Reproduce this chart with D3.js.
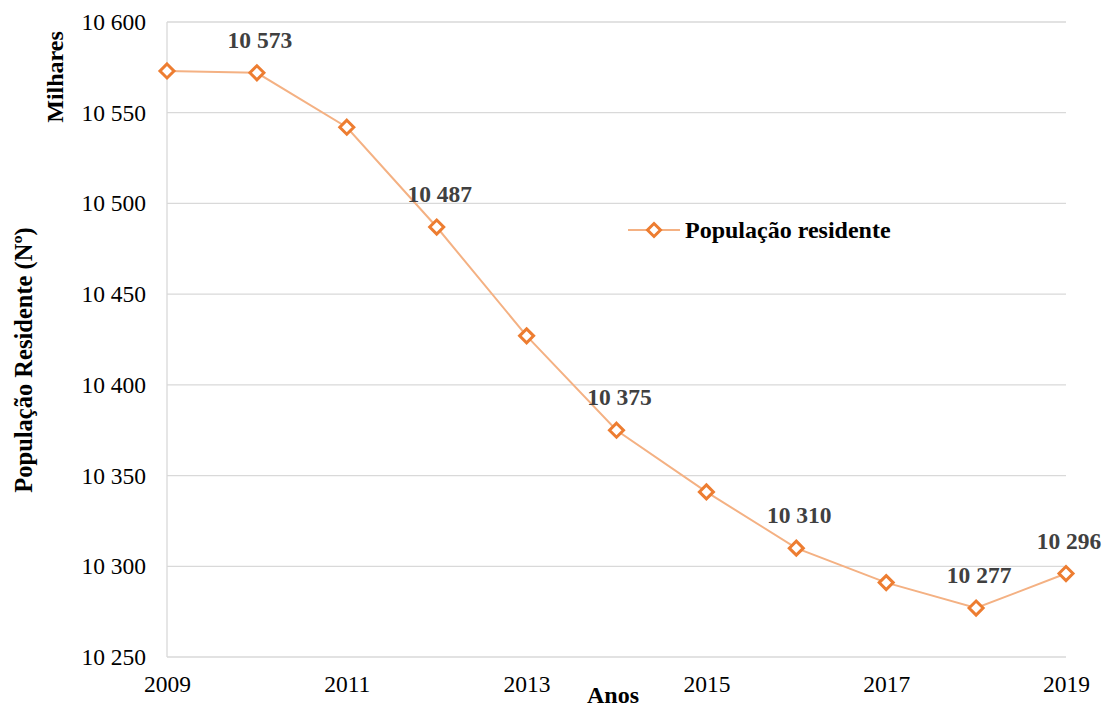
<!DOCTYPE html>
<html>
<head>
<meta charset="utf-8">
<script src="https://cdn.jsdelivr.net/npm/d3@7"></script>
<style>
  html, body { margin: 0; padding: 0; background: #fff; }
  svg { display: block; font-family: "Liberation Serif", "Times New Roman", serif; }
</style>
</head>
<body>
<svg id="chart" width="1109" height="708"></svg>
<script>
// Resident population (thousands), 2009–2019
const years = [2009, 2010, 2011, 2012, 2013, 2014, 2015, 2016, 2017, 2018, 2019];
const population = [10573, 10572, 10542, 10487, 10427, 10375, 10341, 10310, 10291, 10277, 10296];
const labelledYears = [2010, 2012, 2014, 2016, 2018, 2019];
const labelTexts = ["10 573", "10 487", "10 375", "10 310", "10 277", "10 296"];
const yTicks = [10250, 10300, 10350, 10400, 10450, 10500, 10550, 10600];
const xTicks = [2009, 2011, 2013, 2015, 2017, 2019];
const seriesName = "População residente";

const svg = d3.select("#chart");
const W = 1109, H = 708;
const margin = { left: 167, right: W - 1066, top: 22, bottom: H - 657 };

const x = d3.scaleLinear().domain([2009, 2019]).range([margin.left, W - margin.right]);
const y = d3.scaleLinear().domain([10250, 10600]).range([H - margin.bottom, margin.top]);

const fmt = v => d3.format(",")(v).replace(/,/g, " ");

// Horizontal gridlines
svg.append("g")
  .selectAll("line")
  .data(yTicks)
  .join("line")
  .attr("x1", x(2009)).attr("x2", x(2019))
  .attr("y1", d => y(d)).attr("y2", d => y(d))
  .attr("stroke", "#d9d9d9").attr("stroke-width", 1.3);

// Left axis line
svg.append("line")
  .attr("x1", x(2009)).attr("x2", x(2009))
  .attr("y1", y(10250)).attr("y2", y(10600))
  .attr("stroke", "#d9d9d9").attr("stroke-width", 1.3);

// Y tick labels
const yAxis = d3.axisLeft(y).tickValues(yTicks).tickFormat(fmt).tickSize(0).tickPadding(21);
const gy = svg.append("g").attr("transform", `translate(${x(2009)},0)`).call(yAxis);
gy.select(".domain").remove();
gy.selectAll("text")
  .attr("font-family", "Liberation Serif, serif")
  .attr("font-size", 23.5).attr("fill", "#000");

// X tick labels
const xAxis = d3.axisBottom(x).tickValues(xTicks).tickFormat(d3.format("d")).tickSize(0).tickPadding(18);
const gx = svg.append("g").attr("transform", `translate(0,${y(10250)})`).call(xAxis);
gx.select(".domain").remove();
gx.selectAll("text")
  .attr("font-family", "Liberation Serif, serif")
  .attr("font-size", 23.5).attr("fill", "#000");

// Series line
const pts = years.map((yr, i) => ({ yr, v: population[i] }));
svg.append("path")
  .datum(pts)
  .attr("fill", "none")
  .attr("stroke", "#f4b183")
  .attr("stroke-width", 2)
  .attr("d", d3.line().x(d => x(d.yr)).y(d => y(d.v)));

// Diamond markers
const diamond = (cx, cy, r) => `M${cx},${cy - r}L${cx + r},${cy}L${cx},${cy + r}L${cx - r},${cy}Z`;
svg.append("g")
  .selectAll("path")
  .data(pts)
  .join("path")
  .attr("d", d => diamond(x(d.yr), y(d.v), 7))
  .attr("fill", "#fff")
  .attr("stroke", "#ed7d31")
  .attr("stroke-width", 3);

// Data labels
const labelled = labelledYears.map((yr, i) => ({ yr, v: population[years.indexOf(yr)], t: labelTexts[i] }));
svg.append("g")
  .selectAll("text")
  .data(labelled)
  .join("text")
  .attr("x", d => x(d.yr) + 3)
  .attr("y", d => y(d.v) - 25)
  .attr("text-anchor", "middle")
  .attr("font-size", 23.5).attr("font-weight", "bold")
  .attr("fill", "#404040")
  .text(d => d.t);

// Legend
const lg = svg.append("g").attr("transform", "translate(628,230)");
lg.append("line").attr("x1", 0).attr("x2", 52).attr("y1", 0).attr("y2", 0)
  .attr("stroke", "#f4b183").attr("stroke-width", 2);
lg.append("path").attr("d", diamond(26, 0, 6.5)).attr("fill", "#fff")
  .attr("stroke", "#ed7d31").attr("stroke-width", 3);
lg.append("text").attr("x", 57).attr("y", 8)
  .attr("font-size", 24).attr("font-weight", "bold").attr("fill", "#000")
  .text(seriesName);

// Axis titles
svg.append("text")
  .attr("transform", "translate(32,360) rotate(-90)")
  .attr("text-anchor", "middle")
  .attr("font-size", 24.5).attr("font-weight", "bold")
  .text("População Residente (Nº)");

svg.append("text")
  .attr("transform", "translate(63,77) rotate(-90)")
  .attr("text-anchor", "middle")
  .attr("font-size", 24).attr("font-weight", "bold")
  .text("Milhares");

svg.append("text")
  .attr("x", 613).attr("y", 703)
  .attr("text-anchor", "middle")
  .attr("font-size", 24).attr("font-weight", "bold")
  .text("Anos");
</script>
</body>
</html>
